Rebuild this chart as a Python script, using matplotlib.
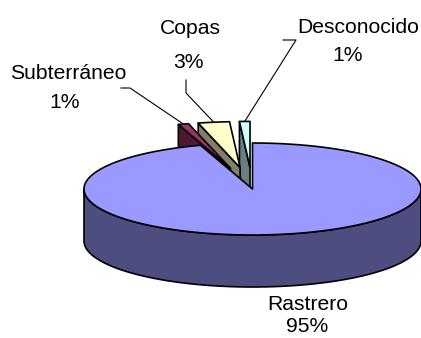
import numpy as np
import matplotlib
matplotlib.use("Agg")
import matplotlib.pyplot as plt
from matplotlib.patches import Polygon
from matplotlib.lines import Line2D

# Data
categories = ["Rastrero", "Subterráneo", "Copas", "Desconocido"]
values = [95, 1, 3, 1]

# Style
top_colors = ["#9999FF", "#993366", "#FFFFCC", "#CCFFFF"]
side_colors = ["#4D4D80", "#4D1A33", "#808066", "#668080"]
explode = [0.0, 0.47, 0.47, 0.47]

W, H = 421, 338
fig = plt.figure(figsize=(W / 100, H / 100), dpi=100)
ax = fig.add_axes([0, 0, 1, 1])
ax.set_xlim(0, W)
ax.set_ylim(H, 0)
ax.axis("off")

# Oblique projection of the pie disc (pixel layout)
CX, CY, RX, RY, DEPTH = 252.5, 189.0, 168.5, 46.0, 52.0
LW = 1.2
FONT = "Liberation Sans"
FS = 15.2


def proj(u, v, z=0.0):
    return (CX + RX * u, CY - RY * v + DEPTH * z)


total = float(sum(values))
bounds = np.concatenate([[0.0], np.cumsum(values)]) / total * 360.0
pct = [round(v / total * 100) for v in values]


def slice_geom(i):
    a1, a2 = bounds[i], bounds[i + 1]
    mid = np.radians((a1 + a2) / 2)
    ou, ov = explode[i] * np.sin(mid), explode[i] * np.cos(mid)
    return a1, a2, ou, ov


def arc(a1, a2, ou, ov, z):
    n = max(4, int(abs(a2 - a1) * 2))
    a = np.radians(np.linspace(a1, a2, n))
    return [proj(ou + np.sin(t), ov + np.cos(t), z) for t in a]


def poly(pts, fc):
    ax.add_patch(Polygon(pts, closed=True, facecolor=fc, edgecolor="black",
                         linewidth=LW, joinstyle="round"))


def draw_slice(i):
    a1, a2, ou, ov = slice_geom(i)
    apex_t = proj(ou, ov, 0)
    apex_b = proj(ou, ov, 1)
    # radial cut faces that turn toward the viewer
    for ang, sign in ((a1, -1.0), (a2, 1.0)):
        r = np.radians(ang)
        normal_v = -sign * np.sin(r)
        if normal_v < -1e-6:
            e_t = proj(ou + np.sin(r), ov + np.cos(r), 0)
            e_b = proj(ou + np.sin(r), ov + np.cos(r), 1)
            poly([apex_t, e_t, e_b, apex_b], side_colors[i])
    # outer wall, front half only
    lo, hi = max(a1, 90.0), min(a2, 270.0)
    if hi > lo:
        top = arc(lo, hi, ou, ov, 0)
        bot = arc(lo, hi, ou, ov, 1)[::-1]
        poly(top + bot, side_colors[i])
    # top face
    poly([apex_t] + arc(a1, a2, ou, ov, 0), top_colors[i])


for i in [3, 2, 1, 0]:
    draw_slice(i)

# Labels: (name x, name baseline), (pct x, pct baseline), leader path start
label_pos = {
    "Rastrero": ((308, 310), (307, 332), None),
    "Subterráneo": ((68.5, 79), (65, 108), [(121, 88), (130, 88)]),
    "Copas": ((190, 34), (188, 68), [(186, 80), (186, 93)]),
    "Desconocido": ((358, 33), (347.5, 61), [(283, 40), (296, 40)]),
}

for i, name in enumerate(categories):
    (nx, ny), (px, py), path = label_pos[name]
    ax.text(nx, ny, name, ha="center", va="baseline", fontsize=FS,
            family=FONT, color="black")
    ax.text(px, py, f"{pct[i]}%", ha="center", va="baseline", fontsize=FS,
            family=FONT, color="black")
    if path:
        a1, a2, ou, ov = slice_geom(i)
        m = np.radians((a1 + a2) / 2)
        end = proj(ou + np.sin(m), ov + np.cos(m), 0)
        xs = [p[0] for p in path] + [end[0]]
        ys = [p[1] for p in path] + [end[1]]
        ax.add_line(Line2D(xs, ys, color="black", linewidth=0.8))

fig.savefig("out.png", dpi=100)
